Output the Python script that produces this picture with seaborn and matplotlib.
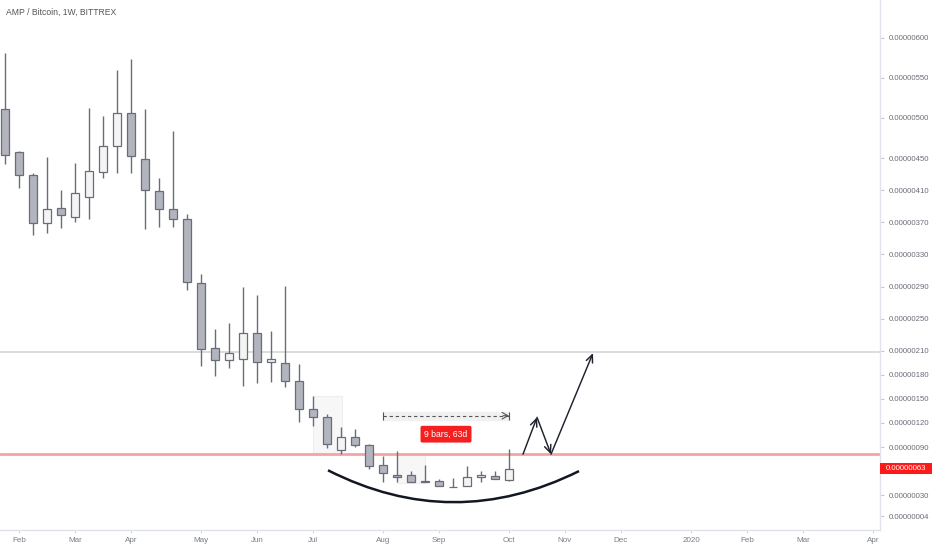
import matplotlib
matplotlib.use("Agg")
import matplotlib.pyplot as plt
import matplotlib.dates as mdates
from matplotlib.path import Path
from matplotlib.patches import PathPatch, Rectangle
import matplotlib.transforms as mtransforms
import seaborn as sns
import pandas as pd
import numpy as np

# weekly candles, prices in satoshi (1e-8 BTC)
opens = [511, 458, 429, 369, 388, 377, 402, 433, 465, 506, 449, 409, 387, 374,
         294, 213, 198, 200, 232, 196, 195, 172, 137, 127, 86, 103, 92, 67,
         55, 55, 47.5, 47.6, 40.5, 41.4, 52.3, 53.5, 49]
highs = [581, 459, 431, 451, 410, 444, 512, 503, 560, 574, 511, 425, 484, 380,
         305, 237, 245, 289, 279, 235, 291, 193, 154, 131, 115, 112, 94, 79,
         85, 60.5, 67.6, 50, 52, 66.3, 60.5, 60.5, 87]
lows = [443, 413, 354, 357, 363, 370, 374, 425, 431, 431, 362, 364, 364, 286,
        191, 179, 189, 166, 170, 171, 165, 121, 116, 89, 81, 90, 63, 47,
        47, 47, 47, 41.4, 39.8, 41, 46.8, 49.7, 48]
closes = [454, 429, 369, 387, 379, 407, 434, 465, 506, 453, 410, 387, 374, 296,
          212, 198, 207, 232, 196, 200, 172, 137, 128, 94, 102, 92, 66, 58,
          52.3, 46.8, 47, 41.4, 40, 52.3, 55.5, 49.7, 63]
dates = pd.date_range("2019-01-28", periods=len(opens), freq="W-MON")

price_ticks = [600, 550, 500, 450, 410, 370, 330, 290, 250, 210, 180, 150, 120, 90, 30, 4]
month_ticks = ["2019-02-04", "2019-03-04", "2019-04-01", "2019-05-06", "2019-06-03",
               "2019-07-01", "2019-08-05", "2019-09-02", "2019-10-07", "2019-11-04",
               "2019-12-02", "2020-01-06", "2020-02-03", "2020-03-02", "2020-04-06"]
month_labels = ["Feb", "Mar", "Apr", "May", "Jun", "Jul", "Aug", "Sep", "Oct", "Nov",
                "Dec", "2020", "Feb", "Mar", "Apr"]

# drawings on the chart
support_level = 81
resistance_level = 208
arrow_dates = ["2019-10-14", "2019-10-21", "2019-10-28", "2019-11-18"]
arrow_prices = [81, 127, 81, 207]
arc_dates = ["2019-07-08 12:00", "2019-09-09", "2019-11-11"]
arc_prices = [61, -18, 60]
range_dates = ["2019-08-05", "2019-10-07"]
range_price = 129
range_label = "9 bars, 63d"
box_dates = [["2019-07-01", "2019-07-15 12:00"], ["2019-08-12", "2019-08-26"]]
box_prices = [[81, 153], [45, 81]]

sns.set_theme(style="white")
plt.rcParams["font.family"] = ["Liberation Sans", "DejaVu Sans"]

fig = plt.figure(figsize=(9.32, 5.5), dpi=100)
ax = fig.add_axes([0, 20 / 550, 880 / 932, 530 / 550])

up_fill, down_fill, edge = "#f4f4f4", "#b2b5be", "#6a6d78"

# faint rectangles
for (d0, d1), (p0, p1) in zip(box_dates, box_prices):
    x0, x1 = mdates.date2num(pd.Timestamp(d0)), mdates.date2num(pd.Timestamp(d1))
    ax.add_patch(Rectangle((x0, p0), x1 - x0, p1 - p0, facecolor="#f7f7f7",
                           edgecolor="#eeeeee", lw=0.8, zorder=0))

# horizontal levels
ax.axhline(resistance_level, color="#d9d9d9", lw=1.3, zorder=0.5)
ax.axhline(support_level, color="#f5a3a3", lw=2, zorder=0.5)

# candles
o, h, l, c = map(np.array, (opens, highs, lows, closes))
ax.vlines(dates, l, h, color=edge, lw=1, zorder=1)
fills = [up_fill if cc >= oo else down_fill for oo, cc in zip(o, c)]
ax.bar(dates, np.abs(c - o), bottom=np.minimum(o, c), width=4.2,
       color=fills, edgecolor=edge, linewidth=0.9, zorder=2)

# date range tool
r0, r1 = [mdates.date2num(pd.Timestamp(d)) for d in range_dates]
ax.fill_between([r0, r1], range_price - 5, range_price + 5, color="#f1f1f1", zorder=0.6)
ax.hlines(range_price, r0, r1, colors="#555555", linestyles=(0, (3, 2.5)), lw=0.8, zorder=3)
ax.vlines([r0, r1], range_price - 5, range_price + 5, colors="#555555", lw=0.8, zorder=3)
ax.annotate("", xy=(r1, range_price), xytext=(r1 - 3, range_price),
            arrowprops=dict(arrowstyle="->,head_width=0.2,head_length=0.35",
                            color="#555555", lw=0.8, shrinkA=0, shrinkB=0), zorder=3)
ax.text((r0 + r1) / 2, 106, range_label, ha="center", va="center", color="white",
        fontsize=6.2, zorder=4,
        bbox=dict(boxstyle="round,pad=0.45,rounding_size=0.2", fc="#f51f1f", ec="none"))

# projected path arrows
pts = [(mdates.date2num(pd.Timestamp(d)), p) for d, p in zip(arrow_dates, arrow_prices)]
for a, b in zip(pts[:-1], pts[1:]):
    ax.annotate("", xy=b, xytext=a,
                arrowprops=dict(arrowstyle="->,head_width=0.2,head_length=0.45",
                                color="#1e222d", lw=1.05, shrinkA=0, shrinkB=0), zorder=5)

# rounding bottom arc
arc_xy = [(mdates.date2num(pd.Timestamp(d)), p) for d, p in zip(arc_dates, arc_prices)]
ax.add_patch(PathPatch(Path(arc_xy, [Path.MOVETO, Path.CURVE3, Path.CURVE3]),
                       fill=False, edgecolor="#131722", lw=1.8, zorder=5))

# axes
ax.set_xlim(mdates.date2num(pd.Timestamp("2019-01-25 12:00")),
            mdates.date2num(pd.Timestamp("2020-04-09 12:00")))
ax.set_ylim(-13.4, 647)
ax.set_xticks([mdates.date2num(pd.Timestamp(d)) for d in month_ticks])
ax.set_xticklabels(month_labels)
ax.set_yticks(price_ticks)
ax.set_yticklabels([f"{v / 1e8:.8f}" for v in price_ticks])
ax.yaxis.tick_right()
ax.tick_params(axis="y", which="both", right=True, length=3, width=0.8, color="#c8cad0",
               labelsize=5.6, labelcolor="#6a6d78", pad=3)
ax.tick_params(axis="x", which="both", bottom=True, length=2, width=0.8, color="#d8d8d8",
               labelsize=5.8, labelcolor="#7a7d86", pad=3)
for side in ("top", "left"):
    ax.spines[side].set_visible(False)
for side in ("right", "bottom"):
    ax.spines[side].set_color("#e0e3eb")
    ax.spines[side].set_linewidth(1)
ax.grid(False)

# last price label
blend = mtransforms.blended_transform_factory(ax.transAxes, ax.transData)
ax.add_patch(Rectangle((1.0, closes[-1] - 6.5), 52 / 880, 13, transform=blend,
                       facecolor="#ff1a1a", edgecolor="none", clip_on=False, zorder=6))
ax.text(1.0 + 6 / 880, closes[-1], f"{closes[-1] / 1e8:.8f}", transform=blend,
        ha="left", va="center", color="white", fontsize=5.6, clip_on=False, zorder=7)

fig.text(6 / 932, 1 - 12 / 550, "AMP / Bitcoin, 1W, BITTREX", ha="left", va="center",
         fontsize=6.2, color="#555555")

fig.savefig("out.png", dpi=100, facecolor="white")
